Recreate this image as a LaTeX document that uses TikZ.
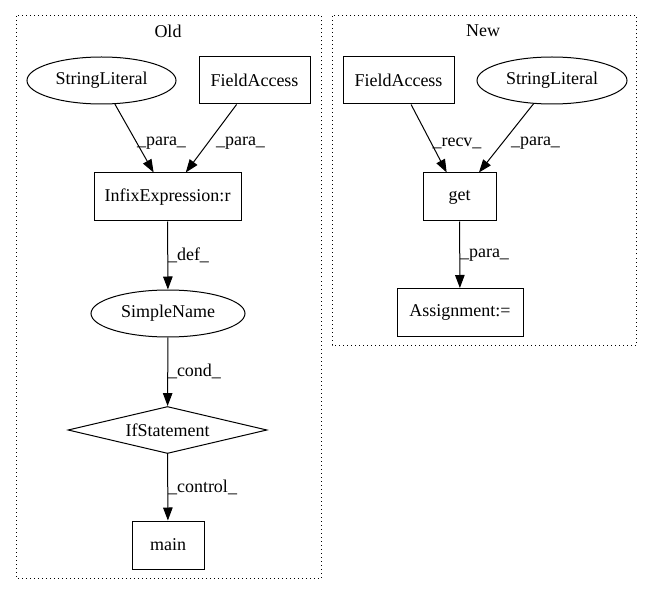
\documentclass[tikz,border=0pt]{standalone}
\usepackage{fontspec}
\setmainfont{Liberation Serif}
\usetikzlibrary{shapes.geometric,arrows.meta}
\begin{document}
\begin{tikzpicture}[x=1pt,y=-1pt,
  every node/.style={font=\fontsize{18}{21}\selectfont, inner sep=0pt},
  boxnode/.style={draw, line width=1pt, rectangle, minimum height=48},
  ellnode/.style={draw, line width=1pt, ellipse, minimum height=47},
  dianode/.style={draw, line width=1pt, diamond, shape aspect=4.2, minimum width=199, minimum height=47},
  edge/.style={draw, line width=1pt, -{Triangle[length=13pt,width=9.5pt]}},
  cluster/.style={draw, line width=1pt, dash pattern=on 1pt off 3pt}
]
\useasboundingbox (0,0) rectangle (653,596);
% clusters
\draw[cluster] (16,16) rectangle (321.5,578);
\draw[cluster] (332,16) rectangle (636.5,345);
\node (told) at (168,31) {Old};
\node (tnew) at (483,31) {New};
% Old nodes
\node[ellnode, minimum width=149] (sl1) at (101.5,80.5) {StringLiteral};
\node[boxnode, minimum width=111, minimum height=47] (fa1) at (254.5,80.5) {FieldAccess};
\node[boxnode, minimum width=147] (ie) at (167.5,197) {InfixExpression:r};
\node[ellnode, minimum width=154] (sn) at (168,313.5) {SimpleName};
\node[dianode] (ifs) at (167.5,430) {IfStatement};
\node[boxnode, minimum width=72] (mn) at (168,545) {main};
% New nodes
\node[boxnode, minimum width=111, minimum height=47] (fa2) at (398.5,80.5) {FieldAccess};
\node[ellnode, minimum width=150] (sl2) at (552,80.5) {StringLiteral};
\node[boxnode, minimum width=73] (get) at (459.5,197) {get};
\node[boxnode, minimum width=126] (asg) at (460,312.5) {Assignment:=};
% edges
\draw[edge] (sl1) -- (ie);
\draw[edge] (fa1) -- (ie);
\draw[edge] (ie) -- (sn);
\draw[edge] (sn) -- (ifs);
\draw[edge] (ifs) -- (mn);
\draw[edge] (fa2) -- (get);
\draw[edge] (sl2) -- (get);
\draw[edge] (get) -- (asg);
% edge labels
\node (l1) at (161.5,143) {\_para\_};
\node (l2) at (240.5,143) {\_para\_};
\node (l3) at (188.5,255) {\_def\_};
\node (l4) at (194.5,371) {\_cond\_};
\node (l5) at (202.5,487) {\_control\_};
\node (l6) at (457,143) {\_recv\_};
\node (l7) at (535.5,143) {\_para\_};
\node (l8) at (484.5,255) {\_para\_};
\end{tikzpicture}
\end{document}
